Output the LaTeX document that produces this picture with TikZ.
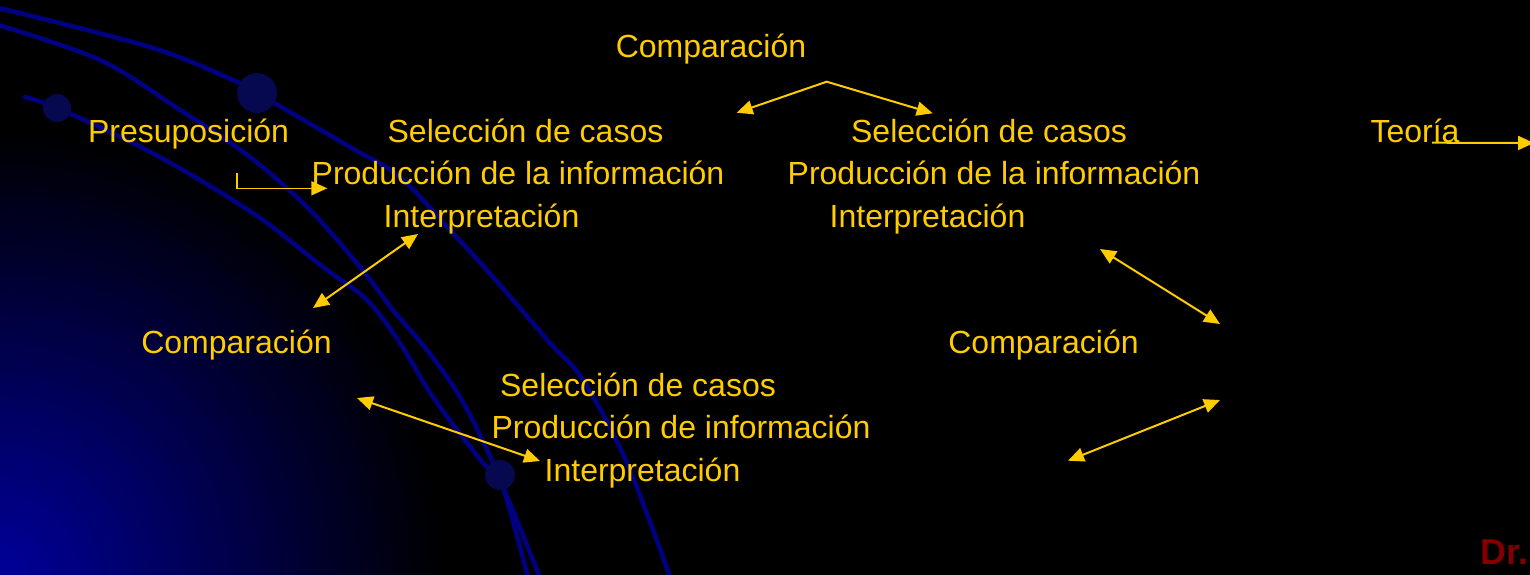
\documentclass[tikz,border=0pt]{standalone}
\usepackage{fontspec}
\setmainfont{Liberation Sans}
\usetikzlibrary{arrows.meta}
\definecolor{gold}{RGB}{255,204,0}
\definecolor{drred}{RGB}{128,0,0}
\definecolor{curveblue}{RGB}{0,0,130}
\definecolor{ballblue}{RGB}{6,8,80}
\definecolor{deepblue}{RGB}{0,0,155}
\begin{document}
\begin{tikzpicture}[x=1pt,y=-1pt,
  lbl/.style={text=gold, font=\fontsize{32}{38}\selectfont, inner sep=0pt, anchor=base},
  conn/.style={draw=gold, line width=2pt},
  onetip/.style={-{Triangle[length=16pt,width=14pt]}},
  twotip/.style={{Triangle[length=16pt,width=14pt]}-{Triangle[length=16pt,width=14pt]}},
  bgcurve/.style={draw=curveblue, line width=4.5pt, line cap=round},
  ballstyle/.style={fill=ballblue}]
\useasboundingbox (0,0) rectangle (1530,574);
% background
\fill[black] (-5,-5) rectangle (1535,580);
\begin{scope}
  \clip (-2,-2) rectangle (1532,578);
  \foreach \r in {450,440,...,0} {
    \pgfmathsetmacro\pc{100*(1-\r/450)}
    \fill[deepblue!\pc!black] (0,574) circle (\r pt);
  }
  \draw[bgcurve] plot[smooth, tension=0.55] coordinates {(-5,7) (150,47) (233,80) (257,93) (350,147) (400,177) (450,230) (493,277) (550,343) (583,380) (627,463) (673,585)};
  \draw[bgcurve] plot[smooth, tension=0.55] coordinates {(-5,24) (100,60) (180,110) (250,157) (310,210) (360,267) (393,310) (427,350) (460,397) (493,463) (543,585)};
  \draw[bgcurve] plot[smooth, tension=0.55] coordinates {(25,97) (57,108) (133,143) (200,180) (263,220) (323,267) (367,300) (400,343) (433,397) (483,463) (500,478) (530,585)};
  \fill[ballstyle] (257,93) circle (20pt);
  \fill[ballstyle] (57,108) circle (14pt);
  \fill[ballstyle] (500,475) circle (15pt);
\end{scope}
% texts
\node[lbl] (comptop) at (711,57) {Comparación};
\node[lbl] (presup) at (188.5,142) {Presuposición};
\node[lbl] (sel1) at (525.5,142) {Selección de casos};
\node[lbl] (prod1) at (518,184.5) {Producción de la información};
\node[lbl] (int1) at (481.5,227) {Interpretación};
\node[lbl] (sel2) at (989,142) {Selección de casos};
\node[lbl] (prod2) at (994,184.5) {Producción de la información};
\node[lbl] (int2) at (927.5,227) {Interpretación};
\node[lbl] (teoria) at (1415,142) {Teoría};
\node[lbl] (compL) at (236.5,353) {Comparación};
\node[lbl] (compR) at (1043.5,353) {Comparación};
\node[lbl] (sel3) at (638,396) {Selección de casos};
\node[lbl] (prod3) at (681,438) {Producción de información};
\node[lbl] (int3) at (642.5,481) {Interpretación};
\node[text=drred, font=\fontsize{36}{40}\selectfont\bfseries, inner sep=0pt, anchor=base west] (dr) at (1480,564) {Dr.};
% connector end points
\coordinate (apex) at (826.7,81.7);
\coordinate (topL) at (736.7,112.7);
\coordinate (topR) at (932.7,113.3);
\coordinate (preA) at (236.7,173);
\coordinate (preB) at (236.7,188.3);
\coordinate (preC) at (327.3,188.3);
\coordinate (teoA) at (1432,142.7);
\coordinate (teoB) at (1534,143);
\coordinate (dlA) at (418,234);
\coordinate (dlB) at (313,308);
\coordinate (drA) at (1100,249);
\coordinate (drB) at (1220,324);
\coordinate (brA) at (1220,400);
\coordinate (brB) at (1068,460.7);
\coordinate (blA) at (357,398);
\coordinate (blB) at (540,461);
% connectors
\draw[conn, twotip] (topL) -- (apex) -- (topR);
\draw[conn, onetip, line width=1.6pt] (preA) -- (preB) -- (preC);
\draw[conn, onetip] (teoA) -- (teoB);
\draw[conn, twotip] (dlA) -- (dlB);
\draw[conn, twotip] (drA) -- (drB);
\draw[conn, twotip] (brA) -- (brB);
\draw[conn, twotip] (blA) -- (blB);
\end{tikzpicture}
\end{document}
